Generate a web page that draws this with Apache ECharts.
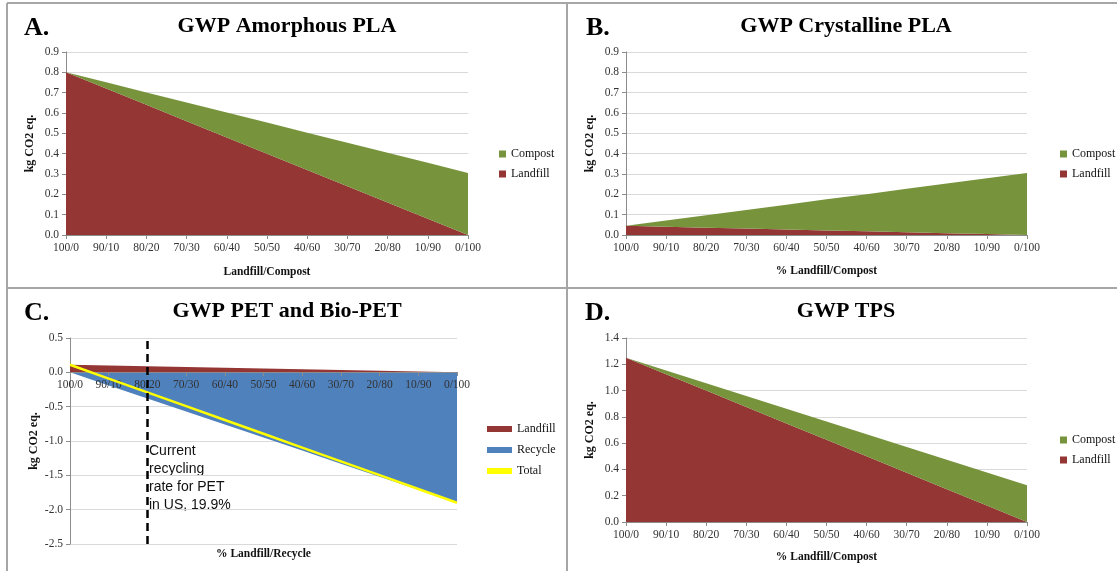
<!DOCTYPE html>
<html>
<head>
<meta charset="utf-8">
<title>GWP end-of-life scenarios</title>
<script src="https://cdn.jsdelivr.net/npm/echarts@6/dist/echarts.min.js"></script>
<style>
  html, body { margin: 0; padding: 0; background: #fff; }
  #chart { width: 1117px; height: 571px; }
</style>
</head>
<body>
<div id="chart"></div>
<script>
// Landfill / compost (or recycle) split, 100/0 through 0/100
const categories = ['100/0', '90/10', '80/20', '70/30', '60/40', '50/50', '40/60', '30/70', '20/80', '10/90', '0/100'];

// A. Amorphous PLA (kg CO2 eq.)
const amorphLandfill = [0.80, 0.72, 0.64, 0.56, 0.48, 0.40, 0.32, 0.24, 0.16, 0.08, 0.00];
const amorphCompost  = [0.000, 0.031, 0.061, 0.092, 0.122, 0.153, 0.183, 0.214, 0.244, 0.275, 0.305];

// B. Crystalline PLA
const crystLandfill = [0.045, 0.0405, 0.036, 0.0315, 0.027, 0.0225, 0.018, 0.0135, 0.009, 0.0045, 0.000];
const crystCompost  = [0.000, 0.031, 0.061, 0.092, 0.122, 0.153, 0.183, 0.214, 0.244, 0.275, 0.305];

// C. PET and Bio-PET
const petLandfill = [0.110, 0.099, 0.088, 0.077, 0.066, 0.055, 0.044, 0.033, 0.022, 0.011, 0.000];
const petRecycle  = [0.00, -0.19, -0.38, -0.57, -0.76, -0.95, -1.14, -1.33, -1.52, -1.71, -1.90];
const petTotal    = [0.110, -0.091, -0.292, -0.493, -0.694, -0.895, -1.096, -1.297, -1.498, -1.699, -1.900];
const currentRecycling = '80/20';

// D. TPS
const tpsLandfill = [1.250, 1.125, 1.000, 0.875, 0.750, 0.625, 0.500, 0.375, 0.250, 0.125, 0.000];
const tpsCompost  = [0.000, 0.028, 0.056, 0.084, 0.112, 0.140, 0.168, 0.196, 0.224, 0.252, 0.280];

// Panel titles, letters and axis names
const panelTitles = ['GWP Amorphous PLA', 'GWP Crystalline PLA', 'GWP PET and Bio-PET', 'GWP TPS'];
const panelLetters = ['A.', 'B.', 'C.', 'D.'];
const xNames = ['Landfill/Compost', '% Landfill/Compost', '% Landfill/Recycle', '% Landfill/Compost'];
const yName = 'kg CO2 eq.';
const noteText = 'Current\nrecycling\nrate for PET\nin US, 19.9%';

const RED = '#943634';
const GREEN = '#77933C';
const BLUE = '#4F81BD';
const YELLOW = '#FFFF00';
const SERIF = "'Liberation Serif', 'DejaVu Serif', serif";
const AXIS_GRAY = '#8c8c8c';

const grids = [
  { left: 66,  top: 52,  width: 402, height: 183 },
  { left: 626, top: 52,  width: 401, height: 183 },
  { left: 70,  top: 338, width: 387, height: 206 },
  { left: 626, top: 338, width: 401, height: 184 }
].map(g => Object.assign({ containLabel: false, outerBoundsMode: 'none' }, g));

// Panel C's category axis runs along the zero line, 172px above the plot bottom
const xOffsets = [0, 0, -172, 0];

function xAxis(i, nameGap) {
  return {
    type: 'category', gridIndex: i, data: categories, boundaryGap: false,
    offset: xOffsets[i], z: 3,
    axisLine: { onZero: false, lineStyle: { color: AXIS_GRAY, width: 1 } },
    axisTick: { show: true, length: 4, lineStyle: { color: AXIS_GRAY } },
    axisLabel: { interval: 0, fontFamily: SERIF, fontSize: 11.5, color: '#333', margin: 7 },
    splitLine: { show: false },
    name: xNames[i], nameLocation: 'middle', nameGap: nameGap,
    nameTextStyle: { fontFamily: SERIF, fontWeight: 'bold', fontSize: 11.5, color: '#111' }
  };
}

function yAxis(i, min, max, interval) {
  return {
    type: 'value', gridIndex: i, min: min, max: max, interval: interval,
    axisLine: { show: true, onZero: false, lineStyle: { color: AXIS_GRAY, width: 1 } },
    axisTick: { show: true, length: 4, lineStyle: { color: AXIS_GRAY } },
    axisLabel: { fontFamily: SERIF, fontSize: 11.5, color: '#333', margin: 7,
                 formatter: v => v.toFixed(1) },
    splitLine: { lineStyle: { color: '#d9d9d9', width: 1 } },
    name: yName, nameLocation: 'middle', nameGap: 30, nameRotate: 90,
    nameTextStyle: { fontFamily: SERIF, fontWeight: 'bold', fontSize: 12, color: '#111' }
  };
}

function area(name, i, data, color, stack) {
  return {
    name: name, type: 'line', xAxisIndex: i, yAxisIndex: i, data: data,
    stack: stack, symbol: 'none', lineStyle: { width: 0 },
    itemStyle: { color: color },
    areaStyle: { color: color, opacity: 1 },
    animation: false
  };
}

function legend(left, top, names, opts) {
  return Object.assign({
    orient: 'vertical', left: left, top: top, padding: 0,
    itemWidth: 7, itemHeight: 7, itemGap: 6, icon: 'rect',
    selectedMode: false,
    textStyle: { fontFamily: SERIF, fontSize: 12, color: '#111', lineHeight: 14 },
    data: names
  }, opts || {});
}

// Panel frame lines
const frameLines = [
  [7, 3, 1117, 3],
  [7, 3, 7, 571],
  [567, 3, 567, 571],
  [7, 288, 1117, 288]
].map(p => ({
  type: 'line', silent: true,
  shape: { x1: p[0], y1: p[1], x2: p[2], y2: p[3] },
  style: { stroke: '#a6a6a6', lineWidth: 2 }
}));

const titleCenters = [[287, 26], [846, 26], [287, 311], [846, 311]];
const letterPos = [[24, 28], [586, 28], [24, 313], [585, 313]];

const titleTexts = panelTitles.map((t, i) => ({
  type: 'text', silent: true, x: titleCenters[i][0], y: titleCenters[i][1],
  style: { text: t, font: 'bold 22px ' + SERIF, fill: '#000', align: 'center', verticalAlign: 'middle' }
}));

const letterTexts = panelLetters.map((t, i) => ({
  type: 'text', silent: true, x: letterPos[i][0], y: letterPos[i][1],
  style: { text: t, font: 'bold 26px ' + SERIF, fill: '#000', align: 'left', verticalAlign: 'middle' }
}));

const note = {
  type: 'text', silent: true, x: 149, y: 442,
  style: { text: noteText, font: "14px 'Liberation Sans', Arial, sans-serif", lineHeight: 18,
           fill: '#111', align: 'left', verticalAlign: 'top' }
};

const option = {
  backgroundColor: '#fff',
  animation: false,
  grid: grids,
  xAxis: [xAxis(0, 31), xAxis(1, 30), xAxis(2, 176), xAxis(3, 29)],
  yAxis: [yAxis(0, 0, 0.9, 0.1), yAxis(1, 0, 0.9, 0.1), yAxis(2, -2.5, 0.5, 0.5), yAxis(3, 0, 1.4, 0.2)],
  legend: [
    legend(499, 147, ['Compost', 'Landfill']),
    legend(1060, 147, ['Compost', 'Landfill']),
    legend(487, 422, [
      { name: 'Landfill', icon: 'rect' },
      { name: 'Recycle', icon: 'rect' },
      { name: 'Total' }
    ], { itemWidth: 25, itemHeight: 6, itemGap: 7 }),
    legend(1060, 433, ['Compost', 'Landfill'])
  ],
  series: [
    area('Landfill', 0, amorphLandfill, RED, 'a'),
    area('Compost', 0, amorphCompost, GREEN, 'a'),
    area('Landfill', 1, crystLandfill, RED, 'b'),
    area('Compost', 1, crystCompost, GREEN, 'b'),
    area('Landfill', 2, petLandfill, RED, null),
    area('Recycle', 2, petRecycle, BLUE, null),
    {
      name: 'Total', type: 'line', xAxisIndex: 2, yAxisIndex: 2, data: petTotal,
      z: 4, symbol: 'none', lineStyle: { color: YELLOW, width: 2.5 }, itemStyle: { color: YELLOW },
      animation: false,
      markLine: {
        silent: true, symbol: ['none', 'none'], animation: false,
        label: { show: false },
        lineStyle: { color: '#000', type: [8, 5], width: 2.5 },
        data: [{ xAxis: currentRecycling }]
      }
    },
    area('Landfill', 3, tpsLandfill, RED, 'd'),
    area('Compost', 3, tpsCompost, GREEN, 'd')
  ],
  graphic: frameLines.concat(titleTexts, letterTexts, [note])
};

const chart = echarts.init(document.getElementById('chart'), null, { renderer: 'canvas' });
chart.setOption(option);
</script>
</body>
</html>
